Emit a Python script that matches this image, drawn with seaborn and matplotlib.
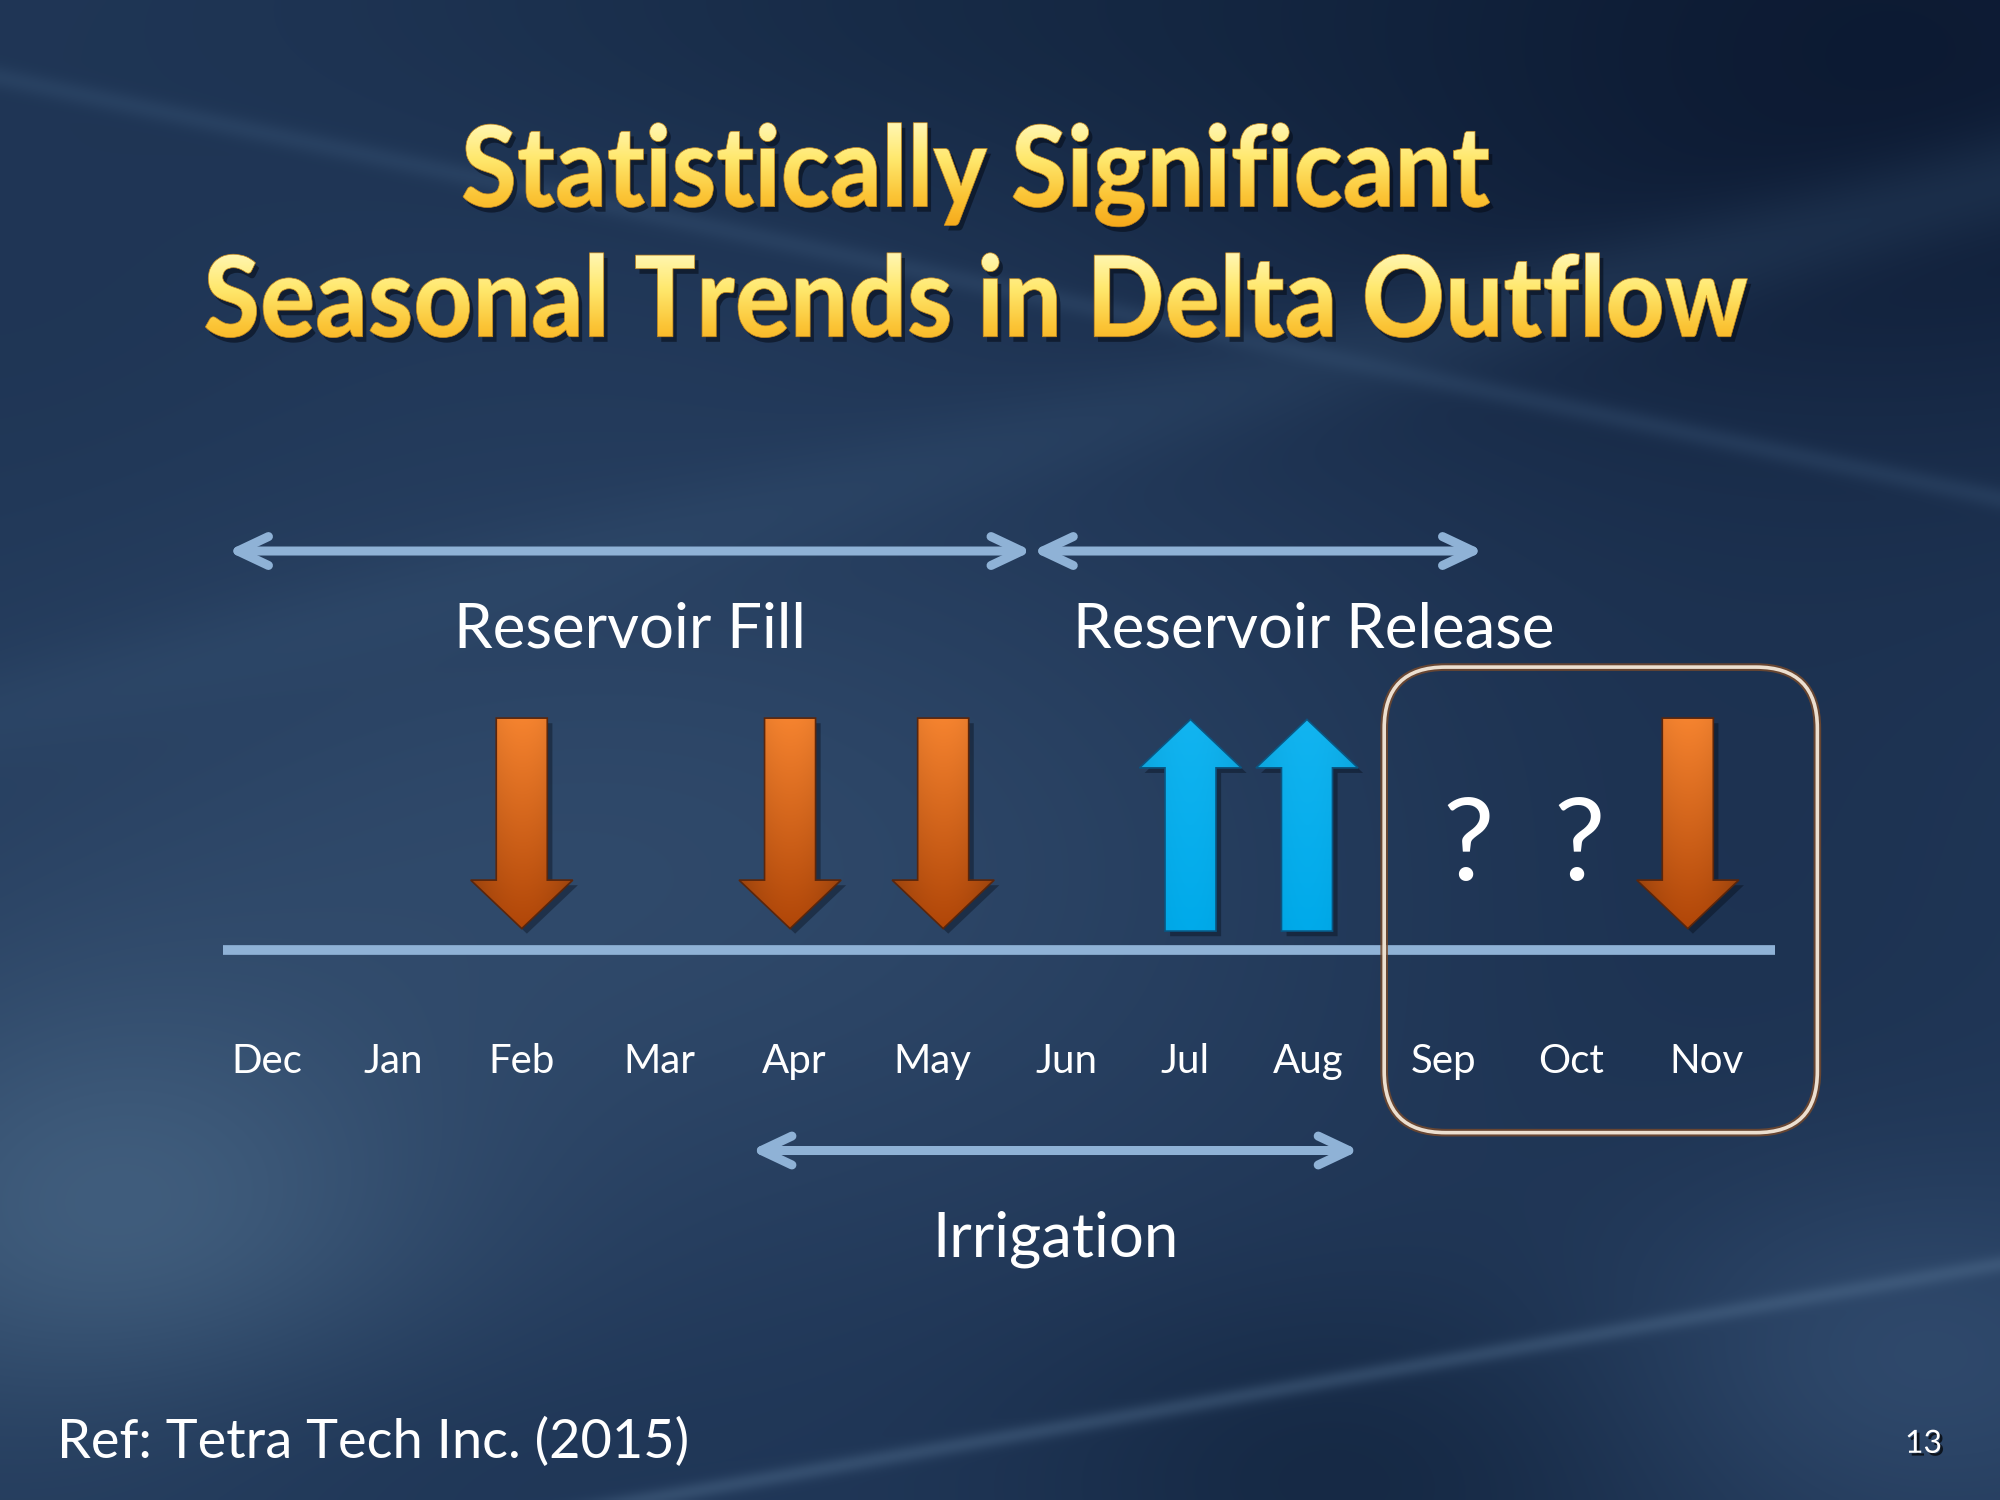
import numpy as np
import matplotlib
matplotlib.use("Agg")
import matplotlib.pyplot as plt
import matplotlib.patheffects as pe
import seaborn as sns
from matplotlib.colors import to_rgb
from matplotlib.font_manager import FontProperties
from matplotlib.patches import FancyBboxPatch, PathPatch, Polygon
from matplotlib.textpath import TextPath
from matplotlib.transforms import Affine2D

# -------------------------------
# Data
# -------------------------------
months = ["Dec", "Jan", "Feb", "Mar", "Apr", "May",
          "Jun", "Jul", "Aug", "Sep", "Oct", "Nov"]
# +1 significant increase, -1 significant decrease, 0 no trend, nan unknown
trend = [0, 0, -1, 0, -1, -1, 0, 1, 1, np.nan, np.nan, -1]

period_names = ["Reservoir Fill", "Reservoir Release", "Irrigation"]
period_start = [-0.3, 5.85, 3.7]   # months counted from Dec
period_end = [5.85, 9.3, 8.35]
uncertain_window = ["Sep", "Nov"]

title_lines = ["Statistically Significant", "Seasonal Trends in Delta Outflow"]
reference = "Ref: Tetra Tech Inc. (2015)"
slide_number = "13"

# -------------------------------
# Layout (slide units, 1568 x 1176)
# -------------------------------
W, H = 1568, 1176
PX = 102.6          # slide units per month
X0 = 209            # slide x of Dec
XL = (-0.33, 11.53)
BASE_Y, TOP_Y = 745, 400
LINE = "#8FB2D6"
period_y = [432, 432, 902]
period_label_y = [508, 508, 985]
label_shift = [0, 0.43, 0]
# small horizontal nudges, as things sit on the slide
mark_nudge = [0, 0, -0.05, 0, 0.0, 0.17, 0, 0.06, -0.05, 0.18, 0.03, -0.14]
tick_nudge = [0, -0.03, -0.05, 0, 0.03, 0.09, 0.11, 0.02, -0.04, -0.01, -0.03, 0]

sns.set_theme(style="white")
plt.rcParams["font.family"] = ["Lato", "DejaVu Sans"]

fig = plt.figure(figsize=(20, 15), dpi=100)


# -------------------------------
# Background
# -------------------------------
def background():
    yy, xx = np.mgrid[0:H:2, 0:W:2].astype(float)
    img = np.ones(xx.shape + (3,)) * np.array(to_rgb("#22395a"))

    def blend(cx, cy, sx, sy, color, k):
        w = k * np.exp(-(((xx - cx) / sx) ** 2 + ((yy - cy) / sy) ** 2))
        img[:] = img * (1 - w[..., None]) + np.array(to_rgb(color)) * w[..., None]

    def streak(x1, y1, x2, y2, width, color, k):
        dx, dy = x2 - x1, y2 - y1
        d = np.abs(dy * (xx - x1) - dx * (yy - y1)) / np.hypot(dx, dy)
        w = k * np.exp(-(d / width) ** 2)
        img[:] = img * (1 - w[..., None]) + np.array(to_rgb(color)) * w[..., None]

    blend(1450, 40, 550, 330, "#08132a", 0.85)
    blend(850, 0, 650, 160, "#0f2139", 0.5)
    blend(0, 250, 300, 250, "#1c3250", 0.5)
    blend(480, 680, 520, 260, "#3a5677", 0.55)
    blend(90, 960, 260, 200, "#50708f", 0.65)
    blend(1350, 720, 320, 420, "#172b48", 0.45)
    blend(1050, 1160, 280, 150, "#0e1f37", 0.6)
    blend(1500, 1060, 230, 150, "#45648a", 0.4)
    blend(300, 1150, 400, 120, "#1b3252", 0.5)
    streak(0, 60, 1568, 390, 9, "#3d5a7c", 0.3)
    streak(1050, 1080, 1568, 990, 7, "#5a7898", 0.35)
    streak(0, 560, 900, 320, 40, "#355273", 0.3)
    return np.clip(img, 0, 1)


axb = fig.add_axes([0, 0, 1, 1])
axb.imshow(background(), extent=(0, W, H, 0), aspect="auto",
           interpolation="bilinear", zorder=0)
axb.set_xlim(0, W)
axb.set_ylim(H, 0)
axb.axis("off")


# -------------------------------
# Title with yellow gradient
# -------------------------------
fp_title = FontProperties(family="Lato", weight=900)
cap_units = TextPath((0, 0), "H", size=100, prop=fp_title).get_extents().height
title_cmap = matplotlib.colors.LinearSegmentedColormap.from_list(
    "title", ["#FFF8B8", "#FFE86E", "#FBC435", "#F4A214"])


def gradient_text(text, left, right, baseline, cap):
    tp = TextPath((0, 0), text, size=100, prop=fp_title)
    ext = tp.get_extents()
    sx = (right - left) / ext.width
    sy = cap / cap_units
    tr = Affine2D().translate(-ext.x0, 0).scale(sx, -sy).translate(left, baseline)
    path = tr.transform_path(tp)
    axb.add_patch(PathPatch(path, transform=Affine2D().translate(3, 4) + axb.transData,
                            fc="#050b16", ec="none", alpha=0.55, zorder=2))
    clip = PathPatch(path, transform=axb.transData, fc="none", ec="#c98a1c",
                     lw=0.5, zorder=4)
    axb.add_patch(clip)
    grad = np.linspace(0, 1, 200)[:, None]
    im = axb.imshow(title_cmap(grad), extent=(left, right, baseline + 22, baseline - cap - 4),
                    aspect="auto", interpolation="bilinear", zorder=3)
    im.set_clip_path(clip)


gradient_text(title_lines[0], 363, 1168, 162, 64)
gradient_text(title_lines[1], 161, 1370, 264, 64)

# -------------------------------
# Timeline axes
# -------------------------------
ax = fig.add_axes([(X0 + XL[0] * PX) / W, 1 - BASE_Y / H,
                   (XL[1] - XL[0]) * PX / W, (BASE_Y - TOP_Y) / H])
ax.set_facecolor("none")
sns.despine(ax=ax, left=True)
ax.spines["bottom"].set_color(LINE)
ax.spines["bottom"].set_linewidth(7)
ax.spines["bottom"].set_capstyle("butt")
ax.set_xticks([i + d for i, d in enumerate(tick_nudge)])
ax.set_xticklabels(months)
ax.set_yticks([])
ax.tick_params(axis="x", length=0, pad=67, labelsize=29, labelcolor="white")

# period arrows and labels
for name, a, b, y, ly, s in zip(period_names, period_start, period_end,
                                period_y, period_label_y, label_shift):
    ax.annotate("", xy=(b, y), xytext=(a, y), annotation_clip=False,
                arrowprops=dict(arrowstyle="<->,head_length=1.1,head_width=0.52",
                                mutation_scale=20, lw=6.5, color=LINE,
                                shrinkA=0, shrinkB=0, clip_on=False,
                                capstyle="round", joinstyle="round"))
    ax.text((a + b) / 2 + s, ly, name, ha="center", va="baseline",
            fontsize=44.5, color="white", clip_on=False)

# trend arrows
orange_top, orange_bot = np.array(to_rgb("#F5832F")), np.array(to_rgb("#B04608"))
blue_top, blue_bot = np.array(to_rgb("#12B4F0")), np.array(to_rgb("#00AAEA"))
sw, hw = 20 / PX, 40 / PX


def gradient_img(top, bot, k):
    t = np.linspace(0, 1, 150)[:, None, None]
    u = np.linspace(-1, 1, 60)[None, :, None]
    col = top * (1 - t) + bot * t
    return np.clip(col * (1 - k * u ** 2), 0, 1)


for i, t in enumerate(trend):
    if np.isnan(t) or t == 0:
        continue
    c = i + mark_nudge[i]
    if t < 0:
        y_top, head_base, tip = 563, 690, 728
        pts = [(c - sw, y_top), (c + sw, y_top), (c + sw, head_base),
               (c + hw, head_base), (c, tip), (c - hw, head_base), (c - sw, head_base)]
        img = gradient_img(orange_top, orange_bot, 0.2)
        edge = "#5A260C"
        ext = (c - hw, c + hw, tip, y_top)
    else:
        bottom, head_base, tip = 730, 602, 564
        pts = [(c - sw, bottom), (c + sw, bottom), (c + sw, head_base),
               (c + hw, head_base), (c, tip), (c - hw, head_base), (c - sw, head_base)]
        img = gradient_img(blue_top, blue_bot, 0.08)
        edge = "#0B5480"
        ext = (c - hw, c + hw, bottom, tip)
    ax.add_patch(Polygon(pts, closed=True, fc="#02070f", ec="none", alpha=0.35,
                         transform=Affine2D().translate(4 / PX, 4) + ax.transData,
                         clip_on=False, zorder=2))
    poly = Polygon(pts, closed=True, fc="none", ec=edge, lw=1.2,
                   clip_on=False, zorder=4)
    ax.add_patch(poly)
    im = ax.imshow(img, extent=ext, aspect="auto", interpolation="bilinear", zorder=3)
    im.set_clip_path(poly)

# unknown months
for i, t in enumerate(trend):
    if np.isnan(t):
        ax.text(i + mark_nudge[i], 690, "?", ha="center", va="baseline", fontsize=83,
                color="white", clip_on=False)

# box around the uncertain window
b0, b1 = months.index(uncertain_window[0]), months.index(uncertain_window[1])
box = FancyBboxPatch((b0 - 0.46, 523), (b1 + 0.85) - (b0 - 0.46), 365,
                     boxstyle=f"round,pad=0,rounding_size={48 / PX}",
                     mutation_aspect=PX, fc="none", ec="#ECDFD0", lw=2.6,
                     clip_on=False, zorder=5)
box.set_path_effects([pe.Stroke(linewidth=5.5, foreground="#7a4a2a", alpha=0.8),
                      pe.Normal()])
ax.add_patch(box)

ax.set_xlim(XL)
ax.set_ylim(BASE_Y, TOP_Y)

# -------------------------------
# Footer
# -------------------------------
axb.text(45, 1143, reference, ha="left", va="baseline", fontsize=39, color="white")
axb.text(1508, 1139, slide_number, ha="center", va="baseline", fontsize=23,
         color="white",
         path_effects=[pe.withSimplePatchShadow(offset=(2, -2), shadow_rgbFace="black",
                                                alpha=0.7)])

fig.savefig("out.png", dpi=100)
plt.close(fig)
